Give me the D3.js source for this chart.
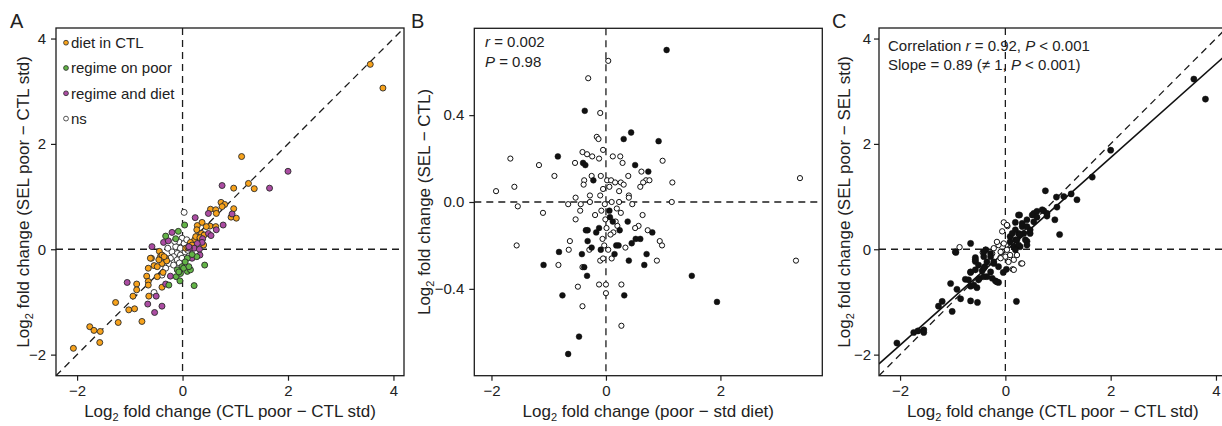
<!DOCTYPE html>
<html>
<head>
<meta charset="utf-8">
<script src="https://cdn.jsdelivr.net/npm/d3@7"></script>
<style>
  body { margin: 0; background: #fff; }
  svg { display: block; }
  text { font-family: "Liberation Sans", Arial, Helvetica, sans-serif; fill: #222; }
</style>
</head>
<body>
<svg id="fig" width="1222" height="426"></svg>
<script>
// ---------- data ----------
// Panel A: log2 fold change CTL poor − CTL std (x) vs SEL poor − CTL std (y)
const dietInCTL = [
  [3.56,3.51],[3.80,3.06],[1.12,1.76],[1.25,1.25],[1.36,1.15],[0.97,1.16],[0.73,0.89],[0.80,0.85],
  [0.75,0.81],[0.97,0.77],[0.92,0.61],[1.02,0.59],[0.53,0.76],[0.63,0.75],[0.64,0.68],[0.37,0.51],
  [0.52,0.44],[0.63,0.43],[0.45,0.43],[0.28,0.45],[0.27,0.37],[0.36,0.30],[0.27,0.24],[0.41,0.27],
  [0.23,0.18],[0.15,0.13],[0.12,0.05],[0.06,0.02],[0.18,0.08],[0.40,0.08],[0.37,0.18],[0.25,0.24],
  [0.10,0.03],[0.33,0.22],
  [-0.44,-0.04],[-0.59,-0.17],[-0.42,-0.14],[-0.32,-0.17],[-0.39,-0.27],[-0.54,-0.31],[-0.65,-0.36],
  [-0.48,-0.33],[-0.37,-0.44],[-0.68,-0.51],[-0.48,-0.52],[-0.65,-0.61],[-0.65,-0.68],[-0.39,-0.72],
  [-0.87,-0.66],[-0.87,-0.77],[-0.64,-0.89],[-0.94,-0.89],[-1.27,-1.01],[-1.02,-1.15],[-0.91,-1.13],
  [-1.22,-1.39],[-0.77,-1.37],[-1.76,-1.47],[-1.68,-1.54],[-1.56,-1.56],[-1.57,-1.77],[-2.07,-1.88],
  [-0.30,-0.22],[-0.45,-0.20],[-0.61,-0.17],[-0.39,-0.11],[-0.35,-0.14]
];
const regimeOnPoor = [
  [0.04,0.46],[-0.08,0.34],[-0.32,0.25],[-0.13,0.20],[0.42,-0.30],[0.22,-0.69],[-0.26,-0.68],
  [-0.12,-0.52],[-0.04,-0.46],[0.09,-0.42],[0.15,-0.39],[0.09,-0.17],[-0.01,-0.33],[-0.10,-0.39],
  [0.27,-0.14],[0.02,-0.36],[0.12,-0.33],[0.05,-0.24],[-0.07,-0.43],[0.18,-0.10],[-0.05,-0.60]
];
const regimeAndDiet = [
  [2.00,1.48],[1.65,1.16],[0.75,1.21],[0.94,0.67],[0.77,0.46],[0.64,0.37],[0.49,0.68],[0.24,0.60],
  [0.49,0.30],[0.54,0.26],[0.38,0.20],[0.37,0.13],[0.28,0.11],[0.22,0.02],[0.13,0.02],[0.32,0.00],
  [0.33,-0.11],[0.18,-0.17],[0.12,0.05],[-0.20,0.32],[-0.36,0.13],[-0.27,0.16],[-0.58,0.05],
  [-1.05,-0.63],[-0.50,-0.89],[-0.66,-1.04],[-0.39,-1.08],[-0.53,-1.20],[-0.32,-0.66],[-0.23,-0.51]
];
const notSignificant = [
  [0.03,0.70],[-0.54,-0.82],[-0.39,-0.49],[-0.01,0.21],[-0.07,0.14],[0.03,0.11],[-0.13,0.05],
  [-0.04,0.02],[-0.20,-0.05],[-0.10,-0.08],[-0.17,-0.14],[-0.04,-0.11],[-0.23,-0.17],[-0.10,-0.20],
  [-0.26,-0.27],[-0.17,-0.30],[0.05,-0.05],[-0.01,-0.17],[-0.32,-0.36],[0.08,0.18],[-0.15,0.15],
  [-0.28,0.02],[0.10,-0.02],[-0.06,-0.26]
];
const groupNames = ["diet in CTL", "regime on poor", "regime and diet", "ns"];
const groupColors = ["#F7A21B", "#62B446", "#AB4CA2", "#ffffff"];

// Panel B: log2 fold change poor − std diet (x) vs SEL − CTL (y)
const bSignificant = [
  [1.06,0.70],[-0.37,0.42],[0.44,0.32],[0.31,0.29],[0.92,0.28],[-0.84,0.21],[-0.40,0.18],[-0.36,0.17],
  [0.51,0.17],[0.74,0.14],[-0.22,0.10],[0.06,-0.04],[0.12,-0.09],[0.38,-0.09],[-0.12,-0.12],[0.24,-0.13],
  [-0.35,-0.13],[-0.32,-0.13],[-0.17,-0.14],[0.81,-0.14],[-0.32,-0.18],[0.52,-0.17],[0.60,-0.17],
  [0.45,-0.19],[0.18,-0.20],[0.22,-0.20],[-0.25,-0.21],[-0.09,-0.22],[-0.82,-0.23],[0.15,-0.24],
  [0.71,-0.24],[-0.42,-0.24],[0.40,-0.27],[-1.09,-0.29],[0.67,-0.29],[-0.38,-0.30],[-0.33,-0.34],
  [1.50,-0.34],[-0.76,-0.43],[0.32,-0.43],[1.94,-0.46],[-0.47,-0.62],[-0.66,-0.70],[0.07,-0.07]
];
const bOther = [
  [0.04,0.65],[-0.31,0.57],[-0.10,0.41],[-0.16,0.30],[-0.13,0.29],[-0.05,0.24],[-1.67,0.20],[-1.17,0.17],
  [-0.90,0.12],[-1.92,0.05],[-1.60,0.07],[-1.54,-0.02],[-1.10,-0.05],[-1.56,-0.20],[3.39,0.11],[3.32,-0.27],
  [1.16,0.09],[1.15,0.00],[0.99,0.19],[-0.41,0.23],[-0.54,0.18],[-0.33,0.22],[-0.24,0.21],[-0.12,0.20],
  [0.12,0.21],[0.25,0.21],[0.29,0.18],[0.39,0.12],[0.62,0.14],[0.70,0.10],[0.76,0.10],[0.65,0.09],
  [0.60,0.07],[-0.25,0.12],[-0.38,0.10],[-0.39,0.08],[-0.09,0.12],[0.02,0.10],[0.09,0.10],[0.16,0.09],
  [0.26,0.09],[0.31,0.08],[-0.05,0.06],[0.06,0.07],[-0.28,0.03],[-0.10,0.03],[0.23,0.05],[0.40,0.03],
  [0.40,0.02],[-0.53,0.02],[-0.66,-0.01],[-0.44,-0.01],[-0.45,-0.04],[-0.53,-0.08],[-0.28,0.00],
  [-0.19,-0.06],[-0.08,-0.04],[-0.02,-0.01],[0.10,0.00],[0.23,0.00],[0.26,-0.05],[0.46,-0.01],
  [0.64,-0.06],[0.57,-0.11],[0.51,-0.12],[0.73,-0.13],[0.94,-0.18],[0.98,-0.20],[0.89,-0.27],
  [-0.63,-0.18],[-0.65,-0.22],[-0.83,-0.29],[-0.29,-0.22],[-0.06,-0.17],[-0.03,-0.20],[-0.10,-0.27],
  [-0.05,-0.26],[0.10,-0.26],[0.04,-0.22],[0.13,-0.14],[0.08,-0.15],[0.01,-0.12],[-0.01,-0.08],
  [-0.41,-0.30],[-0.49,-0.39],[-0.12,-0.38],[0.00,-0.38],[0.27,-0.38],[0.00,-0.42],[-0.41,-0.48],
  [0.27,-0.57],[0.34,-0.21],[0.19,-0.03],[0.17,-0.09],[0.20,-0.11]
];
const bStats = { r: "0.002", P: "0.98" };

// Panel C: log2 fold change CTL poor − CTL std (x) vs SEL poor − SEL std (y)
const cSignificant = [
  [3.58,3.23],[3.80,2.85],[2.00,1.88],[1.65,1.37],[0.76,1.11],[0.97,0.99],[1.11,1.00],[1.25,1.05],
  [1.36,0.94],[0.98,0.80],[0.94,0.56],[1.03,0.28],[0.54,0.68],[0.73,0.73],[0.79,0.63],[0.60,0.61],
  [0.41,0.56],[0.27,0.65],[0.19,0.51],[0.32,0.43],[0.47,0.37],[0.25,0.30],[0.35,0.30],[0.09,0.24],
  [0.19,0.18],[0.41,0.15],[0.28,0.05],[0.16,0.05],[0.25,0.65],[0.32,0.49],[0.51,0.65],[0.60,0.72],
  [0.70,0.75],[0.79,0.68],[0.54,0.52],[0.41,0.43],[0.19,0.37],[0.13,0.30],[0.28,0.27],[0.47,0.30],
  [0.38,0.18],[0.22,0.18],[0.09,0.14],[0.25,0.08],[0.41,0.08],[0.19,-0.01],
  [-0.66,0.11],[-0.94,-0.06],[-0.37,-0.01],[-0.28,-0.08],[-0.41,-0.14],[-0.57,-0.16],[-0.57,-0.23],
  [-0.22,-0.27],[-0.39,-0.33],[-0.44,-0.41],[-0.35,-0.52],[-0.49,-0.55],[-0.66,-0.44],[-0.76,-0.57],
  [-0.19,-0.60],[-0.13,-0.63],[-0.04,-0.44],[0.02,-0.38],[-1.04,-0.65],[-0.92,-0.76],[-0.66,-0.70],
  [-0.54,-0.73],[-0.85,-0.94],[-0.66,-0.98],[-0.53,-1.01],[-1.20,-0.99],[-1.27,-1.08],[-1.01,-1.18],
  [0.21,-0.99],[-1.74,-1.58],[-1.66,-1.55],[-1.55,-1.53],[-1.55,-1.58],[-2.06,-1.78],
  [-0.95,-0.05],[-0.41,-0.05],[-0.28,-0.14],[-0.57,-0.20],[-0.51,-0.30],[-0.35,-0.24],[-0.41,-0.36],
  [-0.22,-0.24],[-0.13,-0.33],[-0.28,-0.43],[-0.57,-0.39],[-0.41,-0.52],[-0.66,-0.43],[-0.25,-0.55],
  [-0.16,-0.62],[-0.70,-0.58],[-0.60,-0.68],[-0.51,-0.58]
];
const cOther = [
  [-0.03,0.51],[0.04,0.44],[-0.06,0.34],[-0.87,0.04],[-0.43,-0.06],[0.14,-0.38],[0.30,-0.27],
  [0.03,0.46],[-0.38,-0.01],[-0.22,0.02],[-0.13,0.08],[-0.03,0.11],[-0.09,-0.05],[0.03,-0.01],
  [-0.25,-0.08],[0.00,-0.14],[0.09,-0.11],[-0.09,-0.17],[0.16,-0.20],[0.06,-0.24],[0.32,-0.27],
  [0.16,-0.39],[0.22,-0.11],[-0.16,0.14]
];
const cStats = { r: "0.92", P: "0.001", slope: "0.89" };
const cFit = { slope: 0.89, intercept: -0.04 };

const foldTicks = [-2, 0, 2, 4];
const bXTicks = [-2, 0, 2];
const bYTicks = [-0.4, 0.0, 0.4];

// ---------- drawing ----------
const svg = d3.select("#fig");
const INK = "#1c1c1c";
const DASH = "7,5";

function setupPanel(o) {
  const g = svg.append("g");
  const [x0, x1] = o.x.range();
  const [yb, yt] = o.y.range();
  const clipId = "clip-" + o.letter;
  svg.append("clipPath").attr("id", clipId)
    .append("rect").attr("x", x0).attr("y", yt).attr("width", x1 - x0).attr("height", yb - yt);
  const plot = g.append("g").attr("clip-path", `url(#${clipId})`);

  // reference lines through zero
  plot.append("line").attr("x1", o.x(0)).attr("x2", o.x(0)).attr("y1", yt).attr("y2", yb)
    .attr("stroke", INK).attr("stroke-width", 1.3).attr("stroke-dasharray", DASH);
  plot.append("line").attr("x1", x0).attr("x2", x1).attr("y1", o.y(0)).attr("y2", o.y(0))
    .attr("stroke", INK).attr("stroke-width", 1.3).attr("stroke-dasharray", DASH);

  // axes
  const xa = g.append("g").attr("transform", `translate(0,${yb})`)
    .call(d3.axisBottom(o.x).tickValues(o.xTicks).tickSize(5).tickPadding(5).tickFormat(o.xFormat));
  const ya = g.append("g").attr("transform", `translate(${x0},0)`)
    .call(d3.axisLeft(o.y).tickValues(o.yTicks).tickSize(5).tickPadding(o.yPad).tickFormat(o.yFormat));
  [xa, ya].forEach(a => {
    a.select(".domain").remove();
    a.selectAll("line").attr("stroke", INK).attr("stroke-width", 1.2);
    a.selectAll("text").attr("font-size", 15).attr("fill", "#222")
      .style("font-family", '"Liberation Sans", Arial, sans-serif');
  });

  // frame
  g.append("rect").attr("x", x0).attr("y", yt).attr("width", x1 - x0).attr("height", yb - yt)
    .attr("fill", "none").attr("stroke", INK).attr("stroke-width", 1.3);

  // titles
  const xt = g.append("text").attr("x", (x0 + x1) / 2).attr("y", 417)
    .attr("text-anchor", "middle").attr("font-size", 17);
  logTitle(xt, o.xTitle);
  const yt2 = g.append("text")
    .attr("transform", `translate(${o.yTitleX},${(yt + yb) / 2}) rotate(-90)`)
    .attr("text-anchor", "middle").attr("font-size", 17);
  logTitle(yt2, o.yTitle);

  // panel letter
  g.append("text").attr("x", o.letterX).attr("y", 28).attr("font-size", 20).text(o.letter);

  return plot;
}

function logTitle(t, rest) {
  t.append("tspan").text("Log");
  t.append("tspan").attr("font-size", 11).attr("dy", 4).text("2");
  t.append("tspan").attr("dy", -4).text(" fold change (" + rest + ")");
}

function dots(plot, data, x, y, r, fill, stroke, sw) {
  plot.append("g").selectAll("circle").data(data).join("circle")
    .attr("cx", d => x(d[0])).attr("cy", d => y(d[1])).attr("r", r)
    .attr("fill", fill).attr("stroke", stroke).attr("stroke-width", sw);
}

function diagonal(plot, x, y) {
  const d = x.domain();
  plot.append("line").attr("x1", x(d[0])).attr("y1", y(d[0])).attr("x2", x(d[1])).attr("y2", y(d[1]))
    .attr("stroke", INK).attr("stroke-width", 1.3).attr("stroke-dasharray", DASH);
}

const intFmt = d3.format("d");

// ---- Panel A ----
const xA = d3.scaleLinear().domain([-2.4, 4.2]).range([56, 404]);
const yA = d3.scaleLinear().domain([-2.4, 4.2]).range([375.7, 28]);
const plotA = setupPanel({
  letter: "A", letterX: 10, x: xA, y: yA, xTicks: foldTicks, yTicks: foldTicks,
  xFormat: intFmt, yFormat: intFmt, yPad: 5, yTitleX: 29,
  xTitle: "CTL poor \u2212 CTL std", yTitle: "SEL poor \u2212 CTL std"
});
diagonal(plotA, xA, yA);
const groupsA = [dietInCTL, regimeOnPoor, regimeAndDiet, notSignificant];
[3, 0, 2, 1].forEach(i => dots(plotA, groupsA[i], xA, yA, 3.0, groupColors[i], "#2a2a2a", 0.9));

// legend
const legA = svg.append("g");
groupNames.forEach((name, i) => {
  const cy = 42.7 + i * 25.3;
  legA.append("circle").attr("cx", 66).attr("cy", cy).attr("r", 2.4)
    .attr("fill", groupColors[i]).attr("stroke", "#2a2a2a").attr("stroke-width", 0.8);
  legA.append("text").attr("x", 71).attr("y", cy + 5.3).attr("font-size", 15).text(name);
});

// ---- Panel B ----
const xB = d3.scaleLinear().domain([-2.3, 3.78]).range([474.3, 822.3]);
const yB = d3.scaleLinear().domain([-0.8, 0.8]).range([375.7, 28.3]);
const plotB = setupPanel({
  letter: "B", letterX: 411, x: xB, y: yB, xTicks: bXTicks, yTicks: bYTicks,
  xFormat: intFmt, yFormat: d3.format(".1f"), yPad: 5, yTitleX: 430,
  xTitle: "poor \u2212 std diet", yTitle: "SEL \u2212 CTL"
});
dots(plotB, bOther, xB, yB, 2.6, "#fff", "#111", 1.0);
dots(plotB, bSignificant, xB, yB, 2.9, "#111", "#111", 0.5);

const statB = svg.append("text").attr("x", 485).attr("y", 47).attr("font-size", 15);
statB.append("tspan").attr("font-style", "italic").text("r");
statB.append("tspan").text(" = " + bStats.r);
const statB2 = svg.append("text").attr("x", 485).attr("y", 66.5).attr("font-size", 15);
statB2.append("tspan").attr("font-style", "italic").text("P");
statB2.append("tspan").text(" = " + bStats.P);

// ---- Panel C ----
const xC = d3.scaleLinear().domain([-2.4, 4.2]).range([879, 1226.5]);
const yC = d3.scaleLinear().domain([-2.4, 4.2]).range([375.7, 28]);
const plotC = setupPanel({
  letter: "C", letterX: 832, x: xC, y: yC, xTicks: foldTicks, yTicks: foldTicks,
  xFormat: intFmt, yFormat: intFmt, yPad: 3, yTitleX: 850,
  xTitle: "CTL poor \u2212 CTL std", yTitle: "SEL poor \u2212 SEL std"
});
diagonal(plotC, xC, yC);
const dC = xC.domain();
plotC.append("line")
  .attr("x1", xC(dC[0])).attr("y1", yC(cFit.intercept + cFit.slope * dC[0]))
  .attr("x2", xC(dC[1])).attr("y2", yC(cFit.intercept + cFit.slope * dC[1]))
  .attr("stroke", "#111").attr("stroke-width", 1.6);
dots(plotC, cOther, xC, yC, 2.7, "#fff", "#111", 1.0);
dots(plotC, cSignificant, xC, yC, 3.1, "#111", "#111", 0.5);

const statC = svg.append("text").attr("x", 888).attr("y", 51).attr("font-size", 15);
statC.append("tspan").text("Correlation ");
statC.append("tspan").attr("font-style", "italic").text("r");
statC.append("tspan").text(" = " + cStats.r + ", ");
statC.append("tspan").attr("font-style", "italic").text("P");
statC.append("tspan").text(" < " + cStats.P);
const statC2 = svg.append("text").attr("x", 888).attr("y", 70).attr("font-size", 15);
statC2.append("tspan").text("Slope = " + cStats.slope + " (\u2260 1, ");
statC2.append("tspan").attr("font-style", "italic").text("P");
statC2.append("tspan").text(" < " + cStats.P + ")");
</script>
</body>
</html>
